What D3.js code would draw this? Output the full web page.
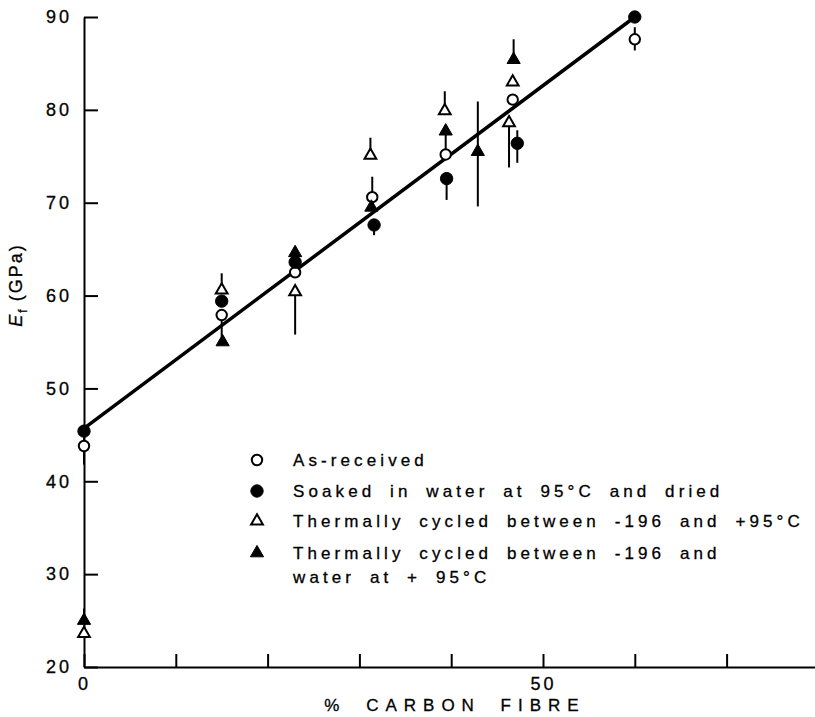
<!DOCTYPE html>
<html>
<head>
<meta charset="utf-8">
<script src="https://cdn.jsdelivr.net/npm/d3@7"></script>
<style>
  body { margin: 0; background: #fff; }
  .axis path, .axis line { stroke: #000; stroke-width: 2; }
  .axis text { font-family: "Liberation Sans", sans-serif; font-size: 18px; letter-spacing: 3px; fill: #000; stroke: #000; stroke-width: 0.3; }
  .legend text { font-family: "Liberation Sans", sans-serif; font-size: 17px; letter-spacing: 4.1px; word-spacing: 6px; fill: #000; stroke: #000; stroke-width: 0.3; }
  .title { font-family: "Liberation Sans", sans-serif; fill: #000; stroke: #000; stroke-width: 0.3; }
</style>
</head>
<body>
<div class="chart"></div>
<script>
let FRAME_WIDTH = 815;
let FRAME_HEIGHT = 717;

// plot area in pixels (axis origin at 84,667)
let PLOT = {left: 84, top: 17, bottom: 667, unitX: 9.18};

// values: % carbon fibre and E_f (GPa), error bars as [low, high]
const AS_RECEIVED_X = [0, 15.0, 23.0, 31.4, 39.4, 46.7, 60];
const AS_RECEIVED_Y = [43.8, 57.9, 62.5, 70.6, 75.2, 81.1, 87.6];
const AS_RECEIVED_ERR = [[41.8, 44.7], [55.5, 57.9], null, [70.6, 72.8], null, null, [86.4, 88.9]];

const SOAKED_X = [0, 15.0, 23.0, 31.6, 39.5, 47.2, 60];
const SOAKED_Y = [45.4, 59.4, 63.6, 67.6, 72.6, 76.4, 90];
const SOAKED_ERR = [null, null, null, [66.5, 67.6], [70.3, 72.6], [74.3, 77.8], null];

const CYCLED_X = [0, 15.0, 23.0, 31.2, 39.3, 46.3, 46.7];
const CYCLED_Y = [23.6, 60.6, 60.4, 75.1, 79.9, 78.6, 83.0];
const CYCLED_ERR = [null, [60.6, 62.4], [55.8, 60.4], [75.1, 77.0], [79.9, 82.0], [73.8, 78.6], null];

const CYCLED_WATER_X = [0, 15.1, 23.0, 31.3, 39.4, 42.9, 46.8];
const CYCLED_WATER_Y = [25.0, 55.0, 64.6, 69.5, 77.7, 75.5, 85.4];
const CYCLED_WATER_ERR = [[25.0, 26.3], null, [64.6, 65.3], null, [75.7, 77.7], [69.6, 80.9], [85.4, 87.6]];

// fitted line
const FIT_X = [0, 60];
const FIT_Y = [45.7, 90];

const X_TICKS = [0, 10, 20, 30, 40, 50, 60, 70];
const X_LABELLED = [0, 50];
const Y_TICKS = [20, 30, 40, 50, 60, 70, 80, 90];

const LEGEND_LINES = [
  ["As-received"],
  ["Soaked in water at 95°C and dried"],
  ["Thermally cycled between  -196 and +95°C"],
  ["Thermally cycled between  -196 and", "water at + 95°C"]
];

let FRAME = d3.select(".chart")
  .append("svg")
  .attr("width", FRAME_WIDTH)
  .attr("height", FRAME_HEIGHT);

const X_SCALE = d3.scaleLinear()
  .domain([0, 80])
  .range([PLOT.left, PLOT.left + 80 * PLOT.unitX]);

const Y_SCALE = d3.scaleLinear()
  .domain([20, 90])
  .range([PLOT.bottom, PLOT.top]);

// axes, ticks pointing inward
FRAME.append("g")
  .attr("class", "axis")
  .attr("transform", "translate(0," + PLOT.bottom + ")")
  .call(d3.axisBottom(X_SCALE)
    .tickValues(X_TICKS)
    .tickSize(-13)
    .tickSizeOuter(0)
    .tickPadding(10)
    .tickFormat(d => X_LABELLED.includes(d) ? d : ""));

FRAME.append("g")
  .attr("class", "axis")
  .attr("transform", "translate(" + PLOT.left + ",0)")
  .call(d3.axisLeft(Y_SCALE)
    .tickValues(Y_TICKS)
    .tickSize(-14)
    .tickSizeOuter(0)
    .tickPadding(12));

// axis titles
FRAME.append("text")
  .attr("class", "title")
  .attr("x", 455)
  .attr("y", 711)
  .attr("text-anchor", "middle")
  .style("font-size", "17px")
  .style("letter-spacing", "7px")
  .style("word-spacing", "8px")
  .text("% CARBON FIBRE");

let yTitle = FRAME.append("text")
  .attr("class", "title")
  .attr("transform", "translate(22,285) rotate(-90)")
  .attr("text-anchor", "middle")
  .style("font-size", "18px")
  .style("letter-spacing", "2px");
yTitle.append("tspan").style("font-style", "italic").text("E");
yTitle.append("tspan").attr("dy", 5).style("font-size", "12px").text("f");
yTitle.append("tspan").attr("dy", -5).attr("dx", 6).text("(GPa)");

// fitted line
FRAME.append("line")
  .attr("x1", X_SCALE(FIT_X[0]))
  .attr("y1", Y_SCALE(FIT_Y[0]))
  .attr("x2", X_SCALE(FIT_X[1]))
  .attr("y2", Y_SCALE(FIT_Y[1]))
  .attr("stroke", "#000")
  .attr("stroke-width", 3.5);

const SERIES = [
  {xs: AS_RECEIVED_X, ys: AS_RECEIVED_Y, err: AS_RECEIVED_ERR, shape: "circle", filled: false},
  {xs: SOAKED_X, ys: SOAKED_Y, err: SOAKED_ERR, shape: "circle", filled: true},
  {xs: CYCLED_X, ys: CYCLED_Y, err: CYCLED_ERR, shape: "triangle", filled: false},
  {xs: CYCLED_WATER_X, ys: CYCLED_WATER_Y, err: CYCLED_WATER_ERR, shape: "triangle", filled: true}
];

function symbolPath(s) {
  if (s.shape === "circle") {
    return d3.symbol(d3.symbolCircle, s.filled ? 120 : 85)();
  }
  return d3.symbol(d3.symbolTriangle, s.filled ? 75 : 60)();
}

// error bars first so the markers sit on top
SERIES.forEach(s => {
  s.err.forEach((e, i) => {
    if (!e) return;
    FRAME.append("line")
      .attr("x1", X_SCALE(s.xs[i]))
      .attr("x2", X_SCALE(s.xs[i]))
      .attr("y1", Y_SCALE(e[0]))
      .attr("y2", Y_SCALE(e[1]))
      .attr("stroke", "#000")
      .attr("stroke-width", 2);
  });
});

SERIES.forEach(s => {
  FRAME.selectAll(null)
    .data(s.xs)
    .enter()
    .append("path")
      .attr("d", symbolPath(s))
      .attr("transform", (d, i) => "translate(" + X_SCALE(d) + "," + Y_SCALE(s.ys[i]) + ")")
      .attr("fill", s.filled ? "#000" : "#fff")
      .attr("stroke", "#000")
      .attr("stroke-width", s.filled ? 1 : 2);
});

// legend
const LEGEND_ROWS = [460, 491, 521, 553];
let legend = FRAME.append("g").attr("class", "legend");
SERIES.forEach((s, i) => {
  legend.append("path")
    .attr("d", symbolPath(s))
    .attr("transform", "translate(257," + LEGEND_ROWS[i] + ")")
    .attr("fill", s.filled ? "#000" : "#fff")
    .attr("stroke", "#000")
    .attr("stroke-width", s.filled ? 1 : 2);
  LEGEND_LINES[i].forEach((line, j) => {
    legend.append("text")
      .attr("x", 293)
      .attr("y", LEGEND_ROWS[i] + 6 + j * 24)
      .text(line);
  });
});
</script>
</body>
</html>
